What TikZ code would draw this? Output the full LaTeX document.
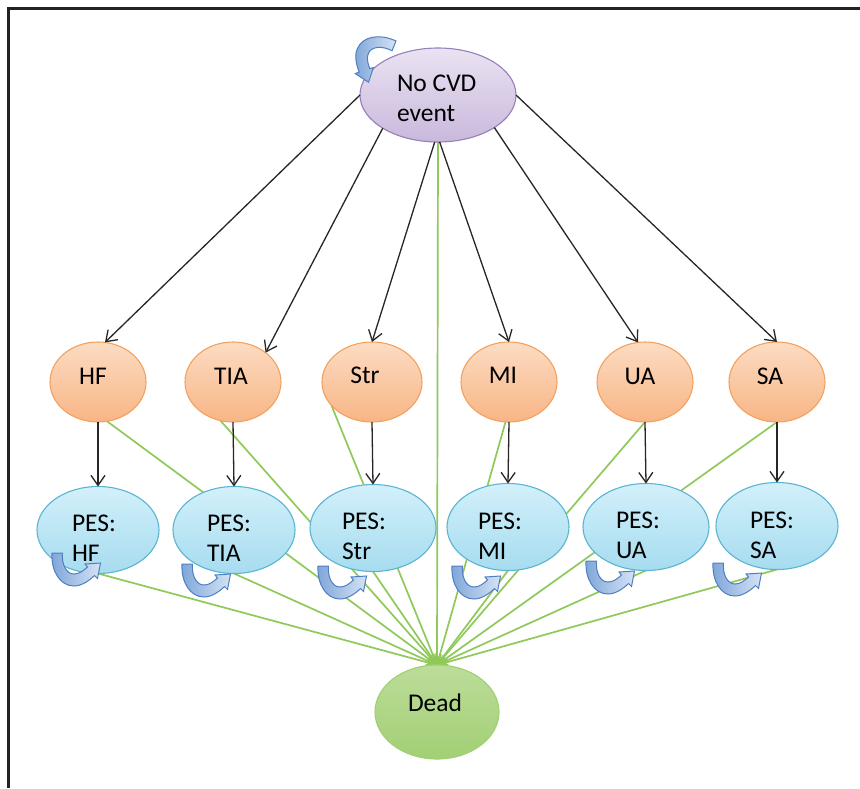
\documentclass[tikz,border=0pt]{standalone}
\usepackage{fontspec}
\setmainfont{Carlito}
\usetikzlibrary{arrows.meta,backgrounds,shapes.geometric}
\definecolor{purpD}{HTML}{9580B8}
\definecolor{purpT}{HTML}{EAE3F2}
\definecolor{purpL}{HTML}{C9B8DC}
\definecolor{orgD}{HTML}{F2A25F}
\definecolor{orgT}{HTML}{FCDCC2}
\definecolor{orgL}{HTML}{F8B585}
\definecolor{bluD}{HTML}{5BB5D0}
\definecolor{bluT}{HTML}{D2F0FA}
\definecolor{bluL}{HTML}{A6DCEF}
\definecolor{grnT}{HTML}{BCDD9A}
\definecolor{grnL}{HTML}{A2CF74}
\definecolor{grnLine}{HTML}{8FC95A}
\definecolor{loopD}{HTML}{4F7FC0}
\definecolor{loopT}{HTML}{D5E3F5}
\definecolor{loopL}{HTML}{7FA6D9}
\definecolor{frame}{HTML}{222222}
\tikzset{
  ell/.style={ellipse, inner sep=0pt, outer sep=0pt, line width=1.1pt},
  startnode/.style={ell, draw=purpD, top color=purpT, bottom color=purpL, minimum width=156pt, minimum height=94pt},
  eventnode/.style={ell, draw=orgD, top color=orgT, bottom color=orgL, minimum width=96pt, minimum height=80pt},
  pesnode/.style={ell, draw=bluD, top color=bluT, bottom color=bluL, minimum width=122pt, minimum height=87pt},
  deadnode/.style={ell, draw=grnL, top color=grnT, bottom color=grnL, minimum width=124pt, minimum height=94pt},
  lbl/.style={inner sep=0pt, outer sep=0pt, font=\fontsize{25.5}{30}\selectfont, align=left, text=black},
  blackarrow/.style={draw=black!85, line width=1.3pt, -{Straight Barb[length=10pt,width=14pt,line width=1.3pt]}},
  greenline/.style={draw=grnLine, line width=1.7pt, -{Stealth[length=11pt,width=10pt]}},
  pics/loopy/.style={code={
    \path[draw=loopD, line width=1pt, left color=loopL, right color=loopT]
      (0,0) .. controls (-1,18) and (8,33) .. (22,33)
      .. controls (30,33) and (38,27) .. (42.5,22.5)
      -- (45.5,25.5) -- (48.5,10) -- (33,11) -- (35.5,14)
      .. controls (31,18) and (27,21) .. (22,21)
      .. controls (14,21) and (9.5,11) .. (10.5,0) -- cycle;
  }}
}
\begin{document}
\begin{tikzpicture}[x=1pt,y=-1pt]
\useasboundingbox (0,0) rectangle (860,788);
\draw[frame, line width=2.2pt] (8.5,788) -- (8.5,8.5) -- (860,8.5);

% nodes
\node[startnode] (nocvd) at (438,95) {};
\node[eventnode] (hf)  at (98,382) {};
\node[eventnode] (tia) at (233,382) {};
\node[eventnode, minimum width=100pt] (str) at (372,382) {};
\node[eventnode] (mi)  at (509,382) {};
\node[eventnode] (ua)  at (645,382) {};
\node[eventnode] (sa)  at (777,382) {};
\node[pesnode] (phf)  at (98,530) {};
\node[pesnode] (ptia) at (234,530) {};
\node[pesnode, minimum width=126pt] (pstr) at (373,528) {};
\node[pesnode] (pmi)  at (508,527) {};
\node[pesnode, minimum width=126pt] (pua)  at (646,527) {};
\node[pesnode] (psa)  at (777,526) {};
\node[deadnode] (dead) at (437,712) {};

% labels
\node[lbl, anchor=north west] (tnocvd) at (397,74.5) {No CVD\\event};
\node[lbl, anchor=base] (thf)  at (93,384) {HF};
\node[lbl, anchor=base] (ttia) at (231,384) {TIA};
\node[lbl, anchor=base] (tstr) at (365,383) {Str};
\node[lbl, anchor=base] (tmi)  at (503,383) {MI};
\node[lbl, anchor=base] (tua)  at (640,384) {UA};
\node[lbl, anchor=base] (tsa)  at (770,384) {SA};
\node[lbl, anchor=north west] (tphf)  at (72,514.5) {PES:\\HF};
\node[lbl, anchor=north west] (tptia) at (207,514.5) {PES:\\TIA};
\node[lbl, anchor=north west] (tpstr) at (342,512.5) {PES:\\Str};
\node[lbl, anchor=north west] (tpmi)  at (478,512.5) {PES:\\MI};
\node[lbl, anchor=north west] (tpua)  at (616,511.5) {PES:\\UA};
\node[lbl, anchor=north west] (tpsa)  at (750,511.5) {PES:\\SA};
\node[lbl, anchor=base west] (tdead) at (408,711) {Dead};

% green connectors behind nodes
\begin{scope}[on background layer]
  \draw[greenline] (nocvd.south) -- (dead.north);
  \draw[greenline] (hf.-77) -- (dead.north);
  \draw[greenline] (tia.-108) -- (dead.north);
  \draw[greenline] (str.210) -- (dead.north);
  \draw[greenline] (mi.-95) -- (dead.north);
  \draw[greenline] (ua.south) -- (dead.north);
  \draw[greenline] (sa.south) -- (dead.north);
  \draw[greenline] (phf.south) -- (dead.north);
  \draw[greenline] (ptia.south) -- (dead.north);
  \draw[greenline] (pstr.south) -- (dead.north);
  \draw[greenline] (pmi.south) -- (dead.north);
  \draw[greenline] (pua.south) -- (dead.north);
  \draw[greenline] (psa.south) -- (dead.north);
\end{scope}

% black connectors
\draw[blackarrow] (nocvd.180) -- (hf.80);
\draw[blackarrow] (nocvd.211) -- (tia.42);
\draw[blackarrow] (nocvd.266) -- (str.north);
\draw[blackarrow] (nocvd.272) -- (mi.north);
\draw[blackarrow] (nocvd.330) -- (ua.100);
\draw[blackarrow] (nocvd.0) -- (sa.north);
\draw[blackarrow] (hf.south) -- (phf.north);
\draw[blackarrow] (tia.south) -- (ptia.north);
\draw[blackarrow] (str.south) -- (pstr.north);
\draw[blackarrow] (mi.south) -- (pmi.north);
\draw[blackarrow] (ua.south) -- (pua.north);
\draw[blackarrow] (sa.south) -- (psa.north);

% self loops
\pic[rotate=-112] at (396,41) {loopy};
\pic at (52,553) {loopy};
\pic at (182,564) {loopy};
\pic at (318,566) {loopy};
\pic at (452,566) {loopy};
\pic at (586,561) {loopy};
\pic at (713,563) {loopy};
\end{tikzpicture}
\end{document}
